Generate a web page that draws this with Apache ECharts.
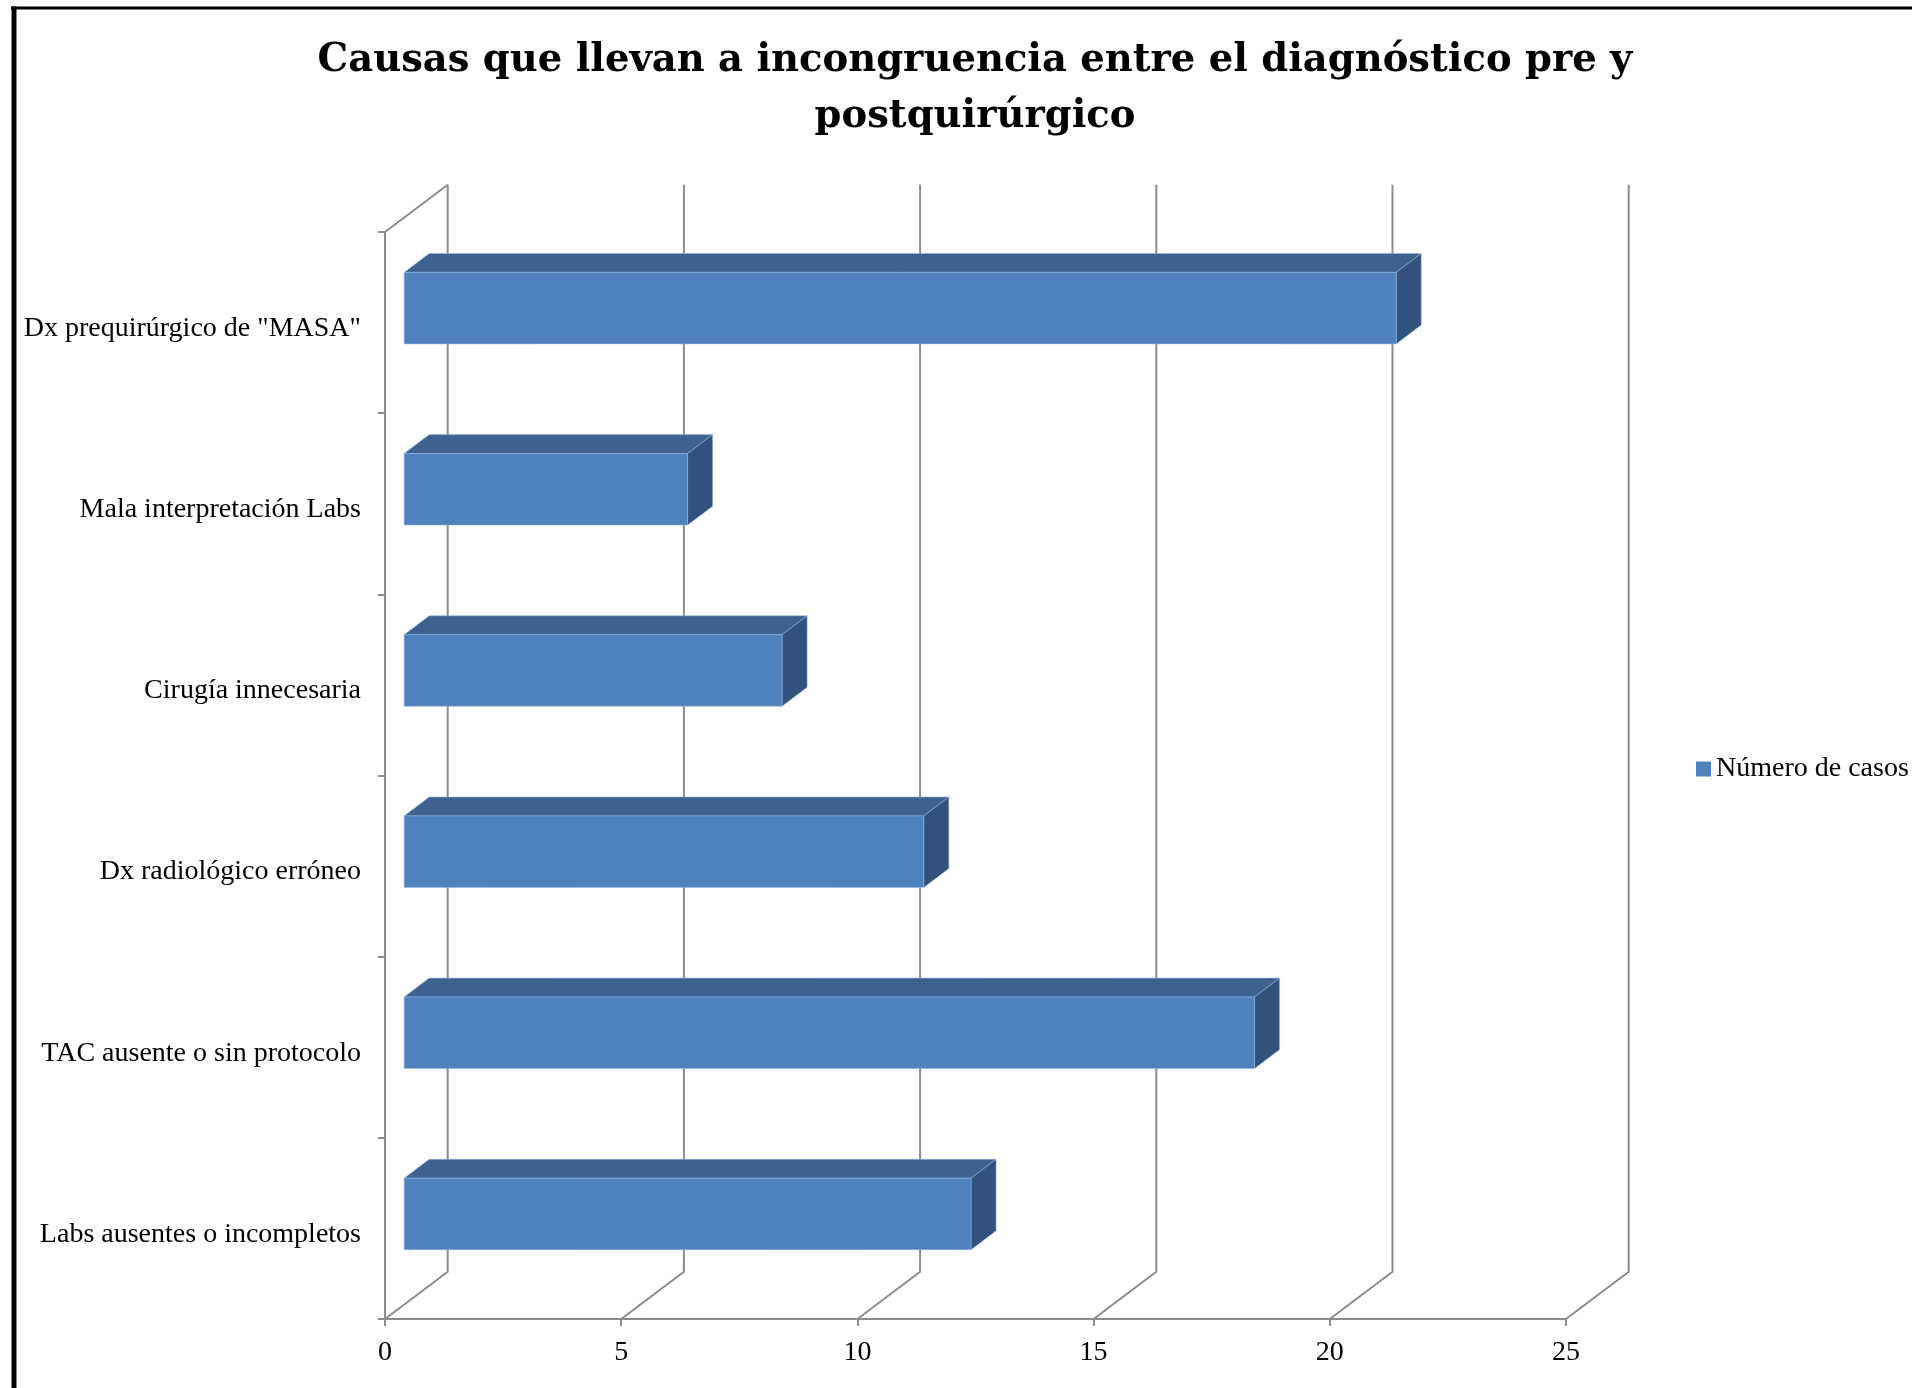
<!DOCTYPE html>
<html>
<head>
<meta charset="utf-8">
<script src="https://cdn.jsdelivr.net/npm/echarts@6/dist/echarts.min.js"></script>
<style>
  html, body { margin: 0; padding: 0; background: #fff; }
  #chart { width: 1912px; height: 1388px; }
</style>
</head>
<body>
<div id="chart"></div>
<script>
// Causes of mismatch between pre- and post-surgical diagnosis
const categories = [
  'Dx prequirúrgico de "MASA"',
  'Mala interpretación Labs',
  'Cirugía innecesaria',
  'Dx radiológico erróneo',
  'TAC ausente o sin protocolo',
  'Labs ausentes o incompletos'
];
const casos = [21, 6, 8, 11, 18, 12];
const xTicks = [0, 5, 10, 15, 20, 25];
const seriesName = 'Número de casos';
const titleText = 'Causas que llevan a incongruencia entre el diagnóstico pre y\npostquirúrgico';

// 3D look: depth of the floor/wall and placement of each box inside it
const DEPTH_X = 62.7, DEPTH_Y = -47.3;
const BAR_FRONT = 0.305, BAR_BACK = 0.705, BAR_THICK = 0.395;
const GRID_COLOR = '#8c8c8c';
const FONT = 'Liberation Serif';

const chart = echarts.init(document.getElementById('chart'), null, { renderer: 'canvas' });

function renderWall(params, api) {
  const cs = params.coordSys;
  const v = api.value(0);
  const xf = api.coord([v, 0])[0];
  const yB = cs.y + cs.height, yT = cs.y;
  const children = [{
    type: 'polyline',
    shape: { points: [[xf, yB], [xf + DEPTH_X, yB + DEPTH_Y], [xf + DEPTH_X, yT + DEPTH_Y]] },
    style: { stroke: GRID_COLOR, lineWidth: 2, fill: null }
  }];
  if (v === 0) {
    children.push({
      type: 'line',
      shape: { x1: cs.x, y1: yT, x2: cs.x + DEPTH_X, y2: yT + DEPTH_Y },
      style: { stroke: GRID_COLOR, lineWidth: 2 }
    });
  }
  return { type: 'group', children };
}

function renderBox(params, api) {
  const val = api.value(0), idx = api.value(1);
  const p0 = api.coord([0, idx]);
  const p1 = api.coord([val, idx]);
  const band = api.size([0, 1])[1];
  const h = band * BAR_THICK;
  const fx = DEPTH_X * BAR_FRONT, fy = DEPTH_Y * BAR_FRONT;
  const bx = DEPTH_X * BAR_BACK, by = DEPTH_Y * BAR_BACK;
  const xL = p0[0], xR = p1[0];
  const yT = p0[1] - h / 2, yB = p0[1] + h / 2;
  const edge = 'rgba(150,185,230,0.55)';
  return {
    type: 'group',
    children: [
      { // top face
        type: 'polygon',
        shape: { points: [[xL + fx, yT + fy], [xR + fx, yT + fy], [xR + bx, yT + by], [xL + bx, yT + by]] },
        style: { fill: '#3d628f', stroke: edge, lineWidth: 1 }
      },
      { // right end face
        type: 'polygon',
        shape: { points: [[xR + fx, yT + fy], [xR + bx, yT + by], [xR + bx, yB + by], [xR + fx, yB + fy]] },
        style: { fill: '#30527c', stroke: edge, lineWidth: 1 }
      },
      { // front face
        type: 'rect',
        shape: { x: xL + fx, y: yT + fy, width: xR - xL, height: h },
        style: { fill: '#4f81bd', stroke: edge, lineWidth: 1 }
      }
    ]
  };
}

chart.setOption({
  animation: false,
  backgroundColor: '#ffffff',
  legend: {
    left: 1691,
    top: 750,
    itemWidth: 15,
    itemHeight: 15,
    data: [{ name: seriesName, icon: 'rect' }],
    textStyle: { fontFamily: FONT, fontSize: 28, color: '#000' },
    selectedMode: false
  },
  grid: { left: 385, top: 232, width: 1181, height: 1087 },
  xAxis: {
    type: 'value',
    min: 0,
    max: 25,
    interval: 5,
    axisLine: { show: true, lineStyle: { color: GRID_COLOR, width: 2 } },
    axisTick: { show: true, length: 7, lineStyle: { color: GRID_COLOR, width: 2 } },
    splitLine: { show: false },
    axisLabel: { margin: 20, fontFamily: FONT, fontSize: 28, color: '#000',
      formatter: (v) => xTicks.indexOf(v) >= 0 ? String(v) : '' }
  },
  yAxis: {
    type: 'category',
    inverse: true,
    data: categories,
    axisLine: { show: true, lineStyle: { color: GRID_COLOR, width: 2 } },
    axisTick: { show: true, length: 7, alignWithLabel: false, lineStyle: { color: GRID_COLOR, width: 2 } },
    axisLabel: {
      margin: 24,
      formatter: (v) => '{c|' + v + '}',
      rich: { c: { fontFamily: FONT, fontSize: 28, color: '#000', padding: [12, 0, 0, 0] } }
    },
    splitLine: { show: false }
  },
  graphic: [
    { type: 'line', shape: { x1: 11, y1: 8, x2: 1912, y2: 8 }, style: { stroke: '#000', lineWidth: 3 } },
    { type: 'line', shape: { x1: 14, y1: 6.5, x2: 14, y2: 1388 }, style: { stroke: '#000', lineWidth: 5 } },
    {
      type: 'text',
      x: 975,
      y: 33,
      style: {
        text: titleText,
        align: 'center',
        verticalAlign: 'top',
        fontFamily: 'DejaVu Serif',
        fontWeight: 'bold',
        fontSize: 38.5,
        lineHeight: 56,
        fill: '#000'
      }
    }
  ],
  series: [
    {
      name: 'walls',
      type: 'custom',
      silent: true,
      clip: false,
      z: 1,
      renderItem: renderWall,
      encode: { x: 0 },
      data: xTicks.map(v => [v, 0])
    },
    {
      name: seriesName,
      type: 'custom',
      silent: true,
      clip: false,
      z: 2,
      itemStyle: { color: '#4f81bd' },
      renderItem: renderBox,
      encode: { x: 0, y: 1 },
      data: casos.map((v, i) => [v, i])
    }
  ]
});
</script>
</body>
</html>
